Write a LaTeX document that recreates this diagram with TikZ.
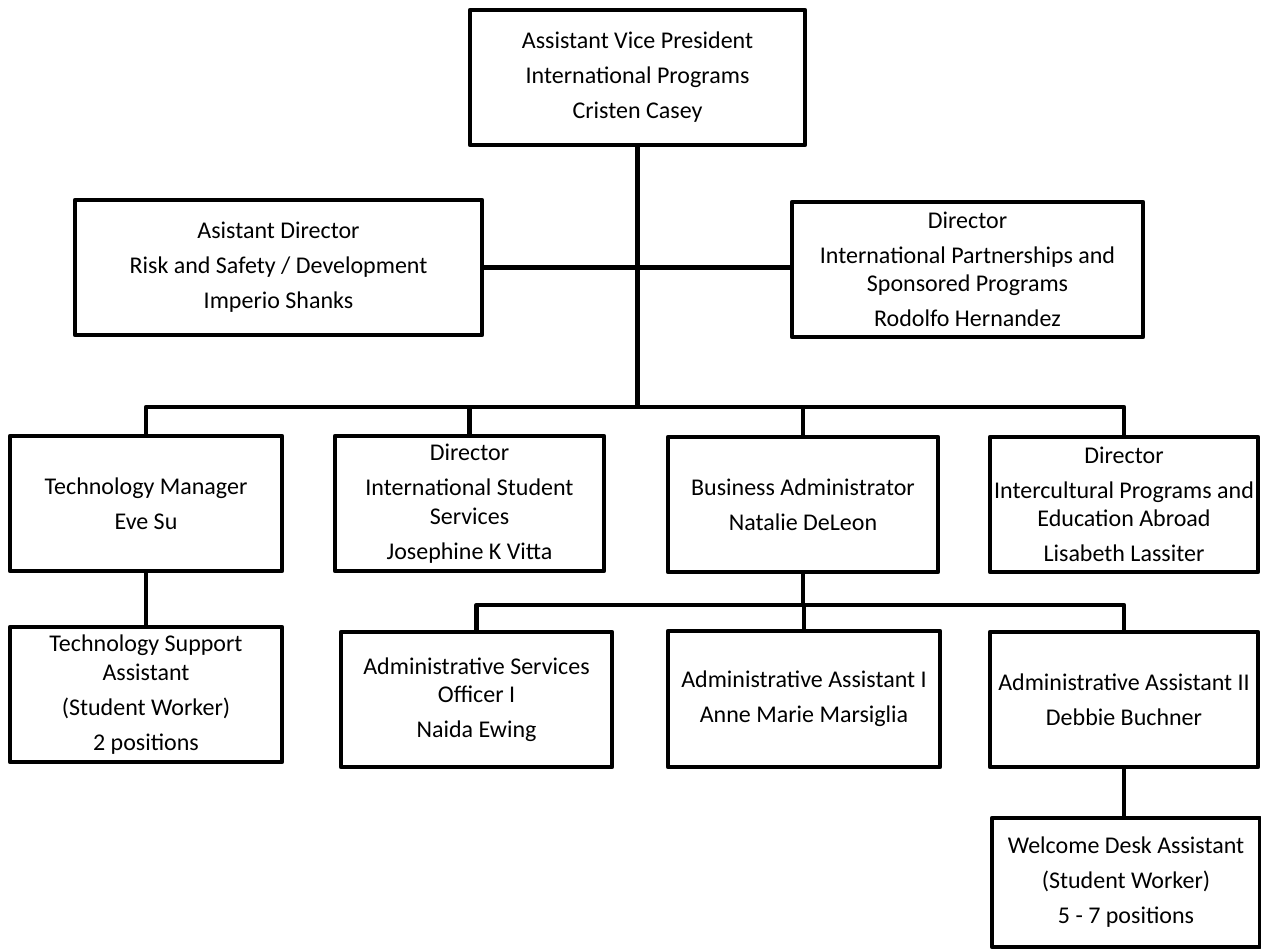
\documentclass[tikz,border=0pt]{standalone}
\usepackage{fontspec}
\setmainfont{Carlito}
\newcommand\orgfont{\fontsize{18pt}{21.3pt}\selectfont}
\newcommand\pg{\\[5pt]}
\tikzset{
  orgbox/.style={draw, line width=3.6pt, inner sep=0pt, align=center, font=\orgfont, line join=round},
  conn/.style={line width=3.6pt, line join=round}
}
% name, x1, y1, x2, y2 (pixels), text
\newcommand\orgnode[6]{%
  \pgfmathsetmacro\cx{(#2+#4)/2}\pgfmathsetmacro\cy{(#3+#5)/2}%
  \pgfmathsetmacro\ww{(#4-#2)*0.75}\pgfmathsetmacro\hh{(#5-#3)*0.75}%
  \node[orgbox, minimum width=\ww pt, minimum height=\hh pt] (#1) at (\cx,\cy) {#6};}
\begin{document}
\begin{tikzpicture}[x=0.75pt, y=-0.75pt]
\useasboundingbox (0,0) rectangle (1261,951);
% level 1
\orgnode{avp}{470}{10}{805}{145}{Assistant Vice President\pg International Programs\pg Cristen Casey}
% level 2
\orgnode{ad}{75}{200}{482}{335}{Asistant Director\pg Risk and Safety / Development\pg Imperio Shanks}
\orgnode{dip}{792}{202}{1143}{337}{Director\pg International Partnerships and\\ Sponsored Programs\pg Rodolfo Hernandez}
% level 3
\orgnode{tm}{10}{436}{282}{571}{Technology Manager\pg Eve Su}
\orgnode{iss}{335}{436}{604}{571}{Director\pg International Student\\ Services\pg Josephine K Vitta}
\orgnode{ba}{668}{437}{938}{572}{Business Administrator\pg Natalie DeLeon}
\orgnode{dic}{990}{437}{1258}{572}{Director\pg Intercultural Programs and\\ Education Abroad\pg Lisabeth Lassiter}
% level 4
\orgnode{tsa}{10}{627}{282}{762}{Technology Support\\ Assistant\pg (Student Worker)\pg 2 positions}
\orgnode{aso}{341}{632}{612}{767}{Administrative Services\\ Officer I\pg Naida Ewing}
\orgnode{aa1}{668}{631}{940}{767}{Administrative Assistant I\pg Anne Marie Marsiglia}
\orgnode{aa2}{990}{632}{1258}{767}{Administrative Assistant II\pg Debbie Buchner}
% level 5
\orgnode{wel}{992}{818}{1260}{947}{Welcome Desk Assistant\pg (Student Worker)\pg 5 - 7 positions}
% connectors
\coordinate (busA) at (0,407);
\coordinate (busB) at (0,605);
\draw[conn] (avp.south) -- (avp.south |- busA);
\draw[conn] (ad.east) -- (ad.east -| dip.west);
\draw[conn] (tm.north) |- (busA -| dic.north) -- (dic.north);
\draw[conn] (iss.north) -- (iss.north |- busA);
\draw[conn] (ba.north) -- (ba.north |- busA);
\draw[conn] (ba.south) -- (ba.south |- busB);
\draw[conn] (aso.north) |- (busB -| aa2.north) -- (aa2.north);
\draw[conn] (aa1.north) -- (aa1.north |- busB);
\draw[conn] (tm.south) -- (tsa.north);
\draw[conn] (aa2.south) -- (aa2.south |- wel.north);
\end{tikzpicture}
\end{document}
